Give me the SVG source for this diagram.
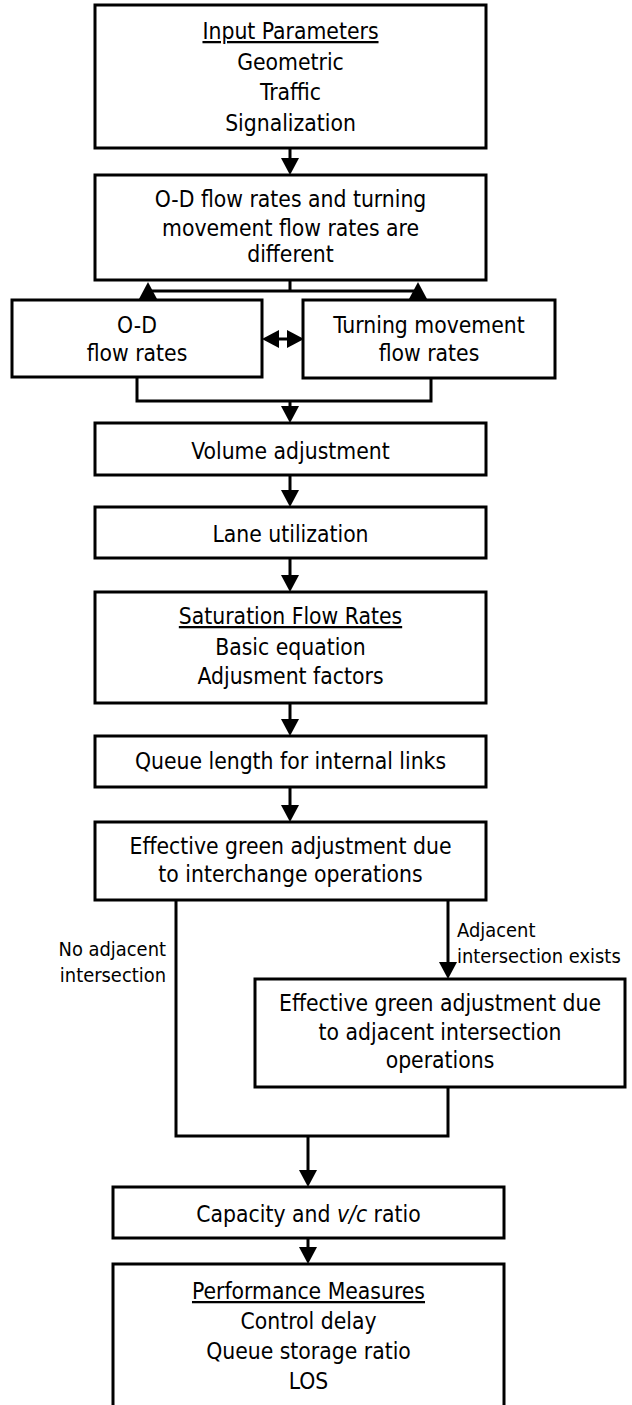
<svg xmlns="http://www.w3.org/2000/svg" width="632" height="1405" viewBox="0 0 632 1405">
<style>
.box{fill:#fff;stroke:#000;stroke-width:3}
.t{font-family:"DejaVu Sans Condensed","DejaVu Sans",sans-serif;font-size:22.7px;fill:#000;text-anchor:middle}
.l{font-family:"DejaVu Sans Condensed","DejaVu Sans",sans-serif;font-size:19.9px;fill:#000}
.u{text-decoration:underline}
.c{fill:none;stroke:#000;stroke-width:3}
.a{fill:none;stroke:#000;stroke-width:3;marker-end:url(#ah)}
</style>
<defs>
<marker id="ah" markerUnits="userSpaceOnUse" markerWidth="17" markerHeight="18" refX="0" refY="9" orient="auto-start-reverse" viewBox="0 0 17 18">
<path d="M0,0 L17,9 L0,18 z" fill="#000"/>
</marker>
</defs>
<rect width="632" height="1405" fill="#fff"/>
<g id="connectors">
<path class="a" d="M290,148 L290,158"/>
<path class="c" d="M290,280 L290,291 M148,291 L418,291"/>
<path class="a" d="M148,300 L148,299"/>
<path class="a" d="M418,300 L418,299"/>
<path class="c" d="M279,339 L287,339" style="marker-start:url(#ah);marker-end:url(#ah)"/>
<path class="c" d="M137,377 L137,401 L431,401 L431,378"/>
<path class="a" d="M290,401 L290,406"/>
<path class="a" d="M290,475 L290,490"/>
<path class="a" d="M290,558 L290,575"/>
<path class="a" d="M290,703 L290,719"/>
<path class="a" d="M290,787 L290,805"/>
<path class="a" d="M448,900 L448,962"/>
<path class="c" d="M176,900 L176,1136 L448,1136 L448,1087"/>
<path class="a" d="M308,1136 L308,1170"/>
<path class="a" d="M308,1238 L308,1247"/>
<text class="l" x="166" y="956" text-anchor="end">No adjacent</text>
<text class="l" x="166" y="982" text-anchor="end">intersection</text>
<text class="l" x="457" y="937">Adjacent</text>
<text class="l" x="457" y="963">intersection exists</text>
</g>
<g id="input">
<rect class="box" x="95" y="5" width="391" height="143"/>
<text class="t u" x="290.5" y="39">Input Parameters</text>
<text class="t" x="290.5" y="70">Geometric</text>
<text class="t" x="290.5" y="100">Traffic</text>
<text class="t" x="290.5" y="131">Signalization</text>
</g>
<g id="odtm">
<rect class="box" x="95" y="175" width="391" height="105"/>
<text class="t" x="290.5" y="207">O-D flow rates and turning</text>
<text class="t" x="290.5" y="236">movement flow rates are</text>
<text class="t" x="290.5" y="262">different</text>
</g>
<g id="od">
<rect class="box" x="12" y="300" width="250" height="77"/>
<text class="t" x="137" y="333">O-D</text>
<text class="t" x="137" y="361">flow rates</text>
</g>
<g id="tm">
<rect class="box" x="303" y="300" width="252" height="78"/>
<text class="t" x="429" y="333">Turning movement</text>
<text class="t" x="429" y="361">flow rates</text>
</g>
<g id="volume">
<rect class="box" x="95" y="423" width="391" height="52"/>
<text class="t" x="290.5" y="459">Volume adjustment</text>
</g>
<g id="lane">
<rect class="box" x="95" y="507" width="391" height="51"/>
<text class="t" x="290.5" y="542">Lane utilization</text>
</g>
<g id="sat">
<rect class="box" x="95" y="592" width="391" height="111"/>
<text class="t u" x="290.5" y="624">Saturation Flow Rates</text>
<text class="t" x="290.5" y="655">Basic equation</text>
<text class="t" x="290.5" y="684">Adjusment factors</text>
</g>
<g id="queue">
<rect class="box" x="95" y="736" width="391" height="51"/>
<text class="t" x="290.5" y="769">Queue length for internal links</text>
</g>
<g id="egint">
<rect class="box" x="95" y="822" width="391" height="78"/>
<text class="t" x="290.5" y="854">Effective green adjustment due</text>
<text class="t" x="290.5" y="882">to interchange operations</text>
</g>
<g id="egadj">
<rect class="box" x="255" y="979" width="370" height="108"/>
<text class="t" x="440" y="1011">Effective green adjustment due</text>
<text class="t" x="440" y="1040">to adjacent intersection</text>
<text class="t" x="440" y="1068">operations</text>
</g>
<g id="cap">
<rect class="box" x="113" y="1187" width="391" height="51"/>
<text class="t" x="308.5" y="1222">Capacity and <tspan font-style="italic">v/c</tspan> ratio</text>
</g>
<g id="perf">
<rect class="box" x="113" y="1264" width="391" height="150"/>
<text class="t u" x="308.5" y="1299">Performance Measures</text>
<text class="t" x="308.5" y="1329">Control delay</text>
<text class="t" x="308.5" y="1359">Queue storage ratio</text>
<text class="t" x="308.5" y="1389">LOS</text>
</g>
</svg>
